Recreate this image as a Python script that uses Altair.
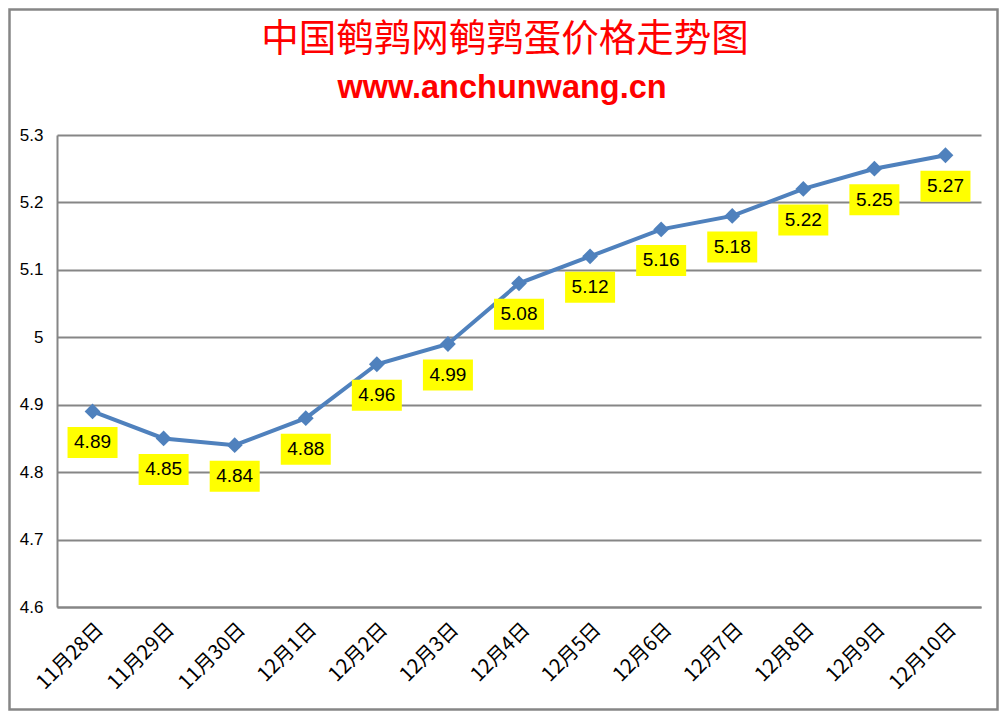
import altair as alt
import pandas as pd

dates = ["11月28日", "11月29日", "11月30日", "12月1日", "12月2日", "12月3日", "12月4日",
         "12月5日", "12月6日", "12月7日", "12月8日", "12月9日", "12月10日"]
prices = [4.89, 4.85, 4.84, 4.88, 4.96, 4.99, 5.08, 5.12, 5.16, 5.18, 5.22, 5.25, 5.27]
y_ticks = [4.6, 4.7, 4.8, 4.9, 5.0, 5.1, 5.2, 5.3]
title_text = "中国鹌鹑网鹌鹑蛋价格走势图"
subtitle_text = "www.anchunwang.cn"

df = pd.DataFrame({"date": dates, "price": prices})

W, H = 924, 472
PAD_L, PAD_T = 49, 127
TOTAL_W, TOTAL_H = 991, 703
GRAY = "#868686"
BLUE = "#4F81BD"

x = alt.X("date:N", sort=dates,
          scale=alt.Scale(type="point", padding=0.5),
          axis=alt.Axis(title=None, labelAngle=-45, labelFont="Noto Sans CJK SC",
                        labelFontSize=20, labelColor="black", ticks=False,
                        domainColor=GRAY, domainWidth=2, labelPadding=12, grid=False))
y = alt.Y("price:Q",
          scale=alt.Scale(domain=[4.6, 5.3], nice=False, zero=False),
          axis=alt.Axis(title=None, values=y_ticks,
                        labelExpr="format(datum.value, '.2~f')",
                        ticks=False, labelPadding=14, labelFont="Liberation Sans",
                        labelFontSize=17, labelColor="black",
                        gridColor=GRAY, gridWidth=2, gridOpacity=1,
                        domainColor=GRAY, domainWidth=2))

base = alt.Chart(df).encode(x=x, y=y)

line = base.mark_line(color=BLUE, strokeWidth=4)
pts = base.mark_point(shape="diamond", filled=True, size=250, color=BLUE, opacity=1)
boxes = base.mark_point(shape="M-25,-15.5H25V15.5H-25Z", size=4, filled=True,
                        color="#FFFF00", opacity=1, yOffset=31)
labels = base.mark_text(dy=31, fontSize=19, font="Liberation Sans", color="black",
                        baseline="middle", align="center").encode(
    text=alt.Text("price:Q", format=".2f"))

tdf = pd.DataFrame({"t": [title_text], "s": [subtitle_text]})
title = alt.Chart(tdf).mark_text(font="Noto Sans CJK SC", fontSize=37.5, color="#FF0000",
                                 baseline="middle", align="center").encode(
    x=alt.value(448), y=alt.value(-95), text="t:N")
subtitle = alt.Chart(tdf).mark_text(font="Liberation Sans", fontSize=32.5, fontWeight="bold",
                                    color="#FF0000", baseline="middle", align="center").encode(
    x=alt.value(445), y=alt.value(-47), text="s:N")

border = alt.Chart(tdf).mark_rect(filled=False, stroke=GRAY, strokeWidth=2.5).encode(
    x=alt.value(-PAD_L + 1.5), x2=alt.value(TOTAL_W - PAD_L - 1.5),
    y=alt.value(-PAD_T + 1.5), y2=alt.value(TOTAL_H - PAD_T - 1.5))

chart = alt.layer(border, line, pts, boxes, labels, title, subtitle).properties(
    width=W, height=H,
    autosize=alt.AutoSizeParams(type="none"),
    padding={"left": PAD_L, "top": PAD_T, "right": TOTAL_W - PAD_L - W,
             "bottom": TOTAL_H - PAD_T - H},
    background="white",
).configure_view(stroke=None)

chart.save("out.html", embed_options={"renderer": "svg", "actions": False})
